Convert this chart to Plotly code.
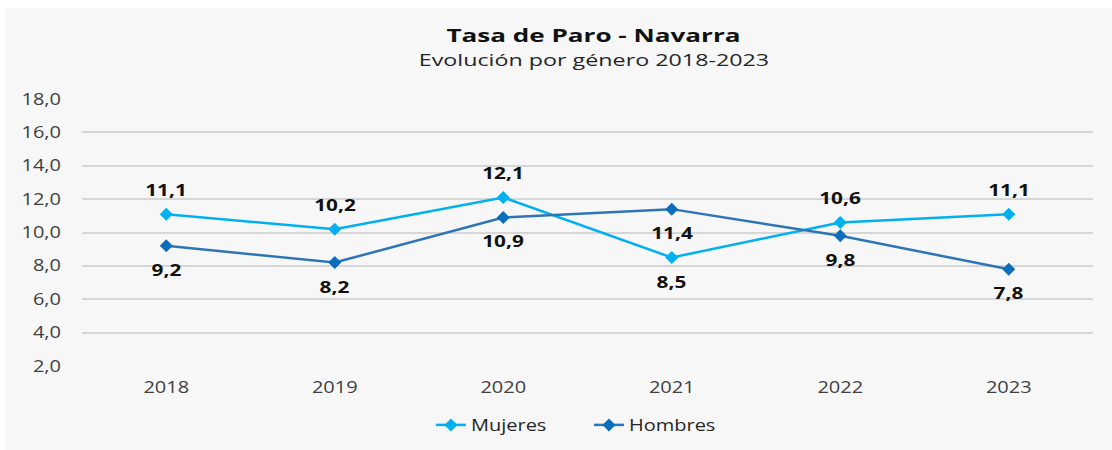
import plotly.graph_objects as go

years = ["2018", "2019", "2020", "2021", "2022", "2023"]
mujeres = [11.1, 10.2, 12.1, 8.5, 10.6, 11.1]
hombres = [9.2, 8.2, 10.9, 11.4, 9.8, 7.8]
# label side: +1 above the point, -1 below
mujeres_side = [1, 1, 1, -1, 1, 1]
hombres_side = [-1, -1, -1, -1, -1, -1]

FONT = "Open Sans"
c_muj = "#00b0f0"
c_hom = "#2e75b6"
c_hom_mk = "#0a6ebd"

W, H = 1112, 450
L, R, T, B = 82, 19, 99, 84
pw, ph = W - L - R, H - T - B


def py(pix):
    """page pixel y -> paper y"""
    return (H - B - pix) / ph


def px(pix):
    return (pix - L) / pw


fig = go.Figure()
fig.add_trace(go.Scatter(
    x=years, y=mujeres, name="Mujeres", mode="lines+markers",
    line=dict(color=c_muj, width=2.5),
    marker=dict(symbol="diamond", size=10, color=c_muj),
))
fig.add_trace(go.Scatter(
    x=years, y=hombres, name="Hombres", mode="lines+markers",
    line=dict(color=c_hom, width=2.5),
    marker=dict(symbol="diamond", size=10, color=c_hom_mk),
))

annotations = []
for series, sides in ((mujeres, mujeres_side), (hombres, hombres_side)):
    for i, (v, s) in enumerate(zip(series, sides)):
        annotations.append(dict(
            x=i, y=v, xref="x", yref="y",
            text="<b>" + f"{v:.1f}".replace(".", ",") + "</b>",
            showarrow=False, yshift=24 * s,
            font=dict(family=FONT, size=16, color="#111111"),
        ))

annotations.append(dict(
    x=px(593), y=py(35), xref="paper", yref="paper", yanchor="middle",
    showarrow=False, text="<b>Tasa de Paro - Navarra</b>",
    font=dict(family=FONT, size=18, color="#111111"),
))
annotations.append(dict(
    x=px(594), y=py(59), xref="paper", yref="paper", yanchor="middle",
    showarrow=False, text="Evolución por género 2018-2023",
    font=dict(family=FONT, size=17, color="#262626"),
))

fig.update_layout(
    width=W, height=H,
    margin=dict(l=L, r=R, t=T, b=B, autoexpand=False),
    paper_bgcolor="white",
    plot_bgcolor="#f7f7f7",
    separators=",.",
    showlegend=True,
    legend=dict(orientation="h", x=px(436) - 0.005, xanchor="left",
                y=py(408), yanchor="top",
                entrywidth=113, entrywidthmode="pixels",
                font=dict(family=FONT, size=16, color="#262626"),
                bgcolor="rgba(0,0,0,0)"),
    annotations=annotations,
    font=dict(family=FONT),
    shapes=[dict(type="rect", xref="paper", yref="paper", layer="below",
                 x0=px(5), x1=px(1112), y0=py(450), y1=py(8),
                 fillcolor="#f7f7f7", line=dict(width=0))],
)
fig.update_xaxes(type="category", range=[-0.5, 5.5], showgrid=False, zeroline=False,
                 showline=False, ticks="", ticklabelstandoff=10,
                 tickfont=dict(family=FONT, size=16, color="#404040"))
fig.update_yaxes(range=[2, 18], dtick=2, tick0=2, tickformat=".1f",
                 showgrid=True, gridcolor="#d6d6d6", gridwidth=1.5,
                 zeroline=False, showline=False, ticks="", ticklabelstandoff=20,
                 tickfont=dict(family=FONT, size=16, color="#404040"))

post = """
document.body.style.margin = '0';
var gd = document.getElementById('{plot_id}');
function stretchOne(t, s) {
  if (t.getAttribute('data-st')) return;
  var x = parseFloat(t.getAttribute('x') || '0');
  var tr = t.getAttribute('transform') || '';
  t.setAttribute('transform', tr + ' translate(' + x + ',0) scale(' + s + ',1) translate(' + (-x) + ',0)');
  t.setAttribute('data-st', '1');
}
function stretchAll() {
  var anns = gd.querySelectorAll('g.annotation text.annotation-text');
  anns.forEach(function(t, i) {
    var s = 1.3;
    if (i === anns.length - 2) s = 1.45;
    if (i === anns.length - 1) s = 1.37;
    stretchOne(t, s);
  });
  gd.querySelectorAll('.xtick text, .ytick text').forEach(function(t){ stretchOne(t, 1.25); });
  gd.querySelectorAll('text.legendtext').forEach(function(t){ stretchOne(t, 1.25); });
}
stretchAll();
setTimeout(stretchAll, 0);
setTimeout(stretchAll, 200);
if (gd.on) gd.on('plotly_afterplot', stretchAll);
"""

fig.write_html("out.html", post_script=post, config={"displayModeBar": False})
